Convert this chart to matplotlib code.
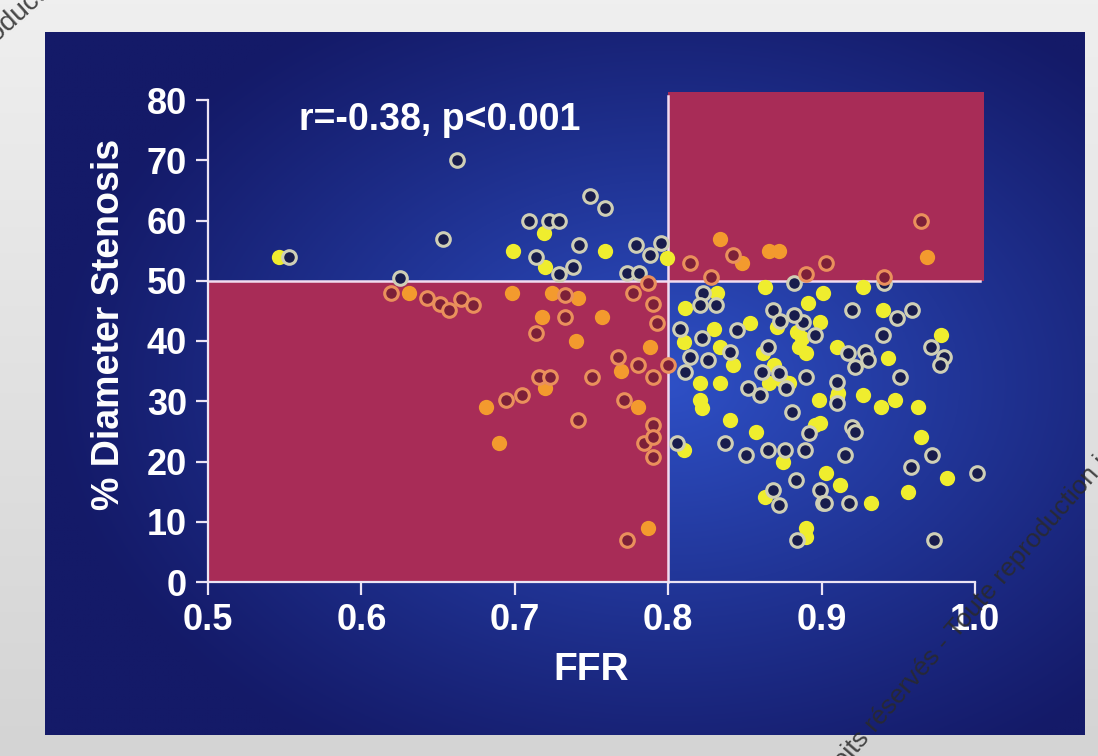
import numpy as np
import matplotlib.pyplot as plt
from matplotlib.patches import Rectangle

plt.rcParams['font.family'] = ['Liberation Sans', 'DejaVu Sans']

# FFR / % diameter stenosis, filled markers
ffr_filled = [0.546, 0.719, 0.699, 0.720, 0.759, 0.799,
              0.631, 0.698, 0.724, 0.741, 0.718, 0.757, 0.740, 0.788, 0.769, 0.720, 0.681, 0.780, 0.690, 0.787,
              0.834, 0.848, 0.866, 0.872, 0.969,
              0.811, 0.832, 0.830, 0.810, 0.834, 0.842, 0.821, 0.834, 0.853, 0.871, 0.863, 0.862, 0.866,
              0.885, 0.887, 0.884, 0.890, 0.901, 0.891, 0.899, 0.879, 0.927, 0.940, 0.978, 0.943, 0.910,
              0.911, 0.927, 0.821, 0.822, 0.840, 0.857, 0.875, 0.810, 0.863, 0.890, 0.890, 0.896, 0.898,
              0.903, 0.939, 0.948, 0.963, 0.965, 0.982, 0.956, 0.912, 0.932, 0.910, 0.899, 0.874, 0.869]
ds_filled = [54, 58, 55, 52.3, 55, 53.7,
             48, 48, 48, 47.2, 44, 44, 40, 39, 35, 32.2, 29, 29, 23, 9,
             57, 53, 55, 55, 54,
             45.4, 48, 42, 39.8, 39, 36, 33, 33, 43, 42.3, 49, 38, 33,
             39, 40.5, 41.5, 38, 48, 46.3, 43.1, 33, 49, 45.1, 41, 37.1, 39,
             31.3, 31, 30.2, 28.9, 26.9, 24.9, 19.9, 21.9, 14.1, 9, 7.5, 26, 30.2,
             18.1, 29, 30.2, 29, 24, 17.2, 14.9, 16.1, 13.1, 30.7, 26.4, 33.5, 36]

# open markers
ffr_open = [0.553, 0.653, 0.662, 0.749, 0.759, 0.709, 0.722, 0.729, 0.714, 0.742, 0.738, 0.779, 0.788,
            0.795, 0.773, 0.781, 0.729, 0.625,
            0.619, 0.643, 0.651, 0.657, 0.665, 0.673, 0.733, 0.733, 0.714, 0.777, 0.790, 0.787, 0.793,
            0.767, 0.780, 0.790, 0.716, 0.723, 0.705, 0.694, 0.750, 0.741, 0.771, 0.790, 0.784, 0.790,
            0.790, 0.773, 0.800,
            0.842, 0.903, 0.965, 0.814, 0.828, 0.890, 0.941,
            0.941, 0.823, 0.821, 0.831, 0.808, 0.822, 0.814, 0.826, 0.840, 0.811, 0.845, 0.868, 0.873,
            0.865, 0.861, 0.852, 0.872, 0.877, 0.890, 0.888, 0.896, 0.920, 0.949, 0.959, 0.940, 0.971,
            0.980, 0.977, 0.917, 0.928, 0.930, 0.922, 0.951, 0.910, 0.837, 0.851, 0.865, 0.876, 0.889,
            0.806, 0.883, 0.868, 0.872, 0.884, 0.881, 0.892, 0.899, 0.901, 0.860, 0.972, 0.958, 1.001,
            0.973, 0.915, 0.902, 0.918, 0.920, 0.922, 0.910, 0.882, 0.882]
ds_open = [54, 57, 70, 64, 62, 60, 60, 60, 54, 56, 52.2, 56, 54.3,
           56.2, 51.3, 51.3, 51.2, 50.4,
           48, 47.1, 46.1, 45.1, 46.9, 45.9, 47.6, 44, 41.3, 48, 46.2, 49.6, 43,
           37.3, 36, 34, 34, 34, 31, 30.2, 34, 26.9, 30.2, 26, 23, 24,
           20.8, 7, 36,
           54.2, 53, 60, 53, 50.6, 51.2, 50.6,
           49.6, 48, 46, 46, 42, 40.5, 37.3, 36.8, 38.1, 34.8, 41.8, 45.1, 43.4,
           39, 34.8, 32.2, 34.7, 32.2, 34, 43.1, 41, 45.1, 43.8, 45.1, 41, 39,
           37.3, 36, 38, 38.1, 36.8, 35.7, 34, 33.2, 23, 21, 21.9, 21.9, 21.9,
           23, 16.9, 15.3, 12.8, 7, 28.2, 24.7, 15.3, 13.1, 31, 21, 19.1, 18.1,
           7, 21, 13.1, 13.1, 25.7, 24.9, 29.7, 44.3, 49.7]

x_ticks = [0.5, 0.6, 0.7, 0.8, 0.9, 1.0]
x_labels = ['0.5', '0.6', '0.7', '0.8', '0.9', '1.0']
y_ticks = [0, 10, 20, 30, 40, 50, 60, 70, 80]
ffr_cut = 0.8
ds_cut = 50

W, H = 1098, 756
fig = plt.figure(figsize=(W / 100, H / 100), dpi=100)
fig.patch.set_facecolor('#d9d9d9')

# slide frame (light grey)
bg = fig.add_axes([0, 0, 1, 1])
bg.axis('off')
g = np.linspace(0, 1, 200)[:, None] * np.ones((1, 10))
bg.imshow(g, cmap=plt.matplotlib.colors.LinearSegmentedColormap.from_list('f', ['#efefef', '#d4d4d4']),
          aspect='auto', extent=[0, 1, 0, 1], origin='upper')

# dark blue panel with a soft radial glow
panel = fig.add_axes([45 / W, (H - 735) / H, 1040 / W, 703 / H])
panel.axis('off')
yy, xx = np.mgrid[0:1:300j, 0:1:400j]
r = np.sqrt(((xx - 0.6) / 0.6) ** 2 + ((yy - 0.5) / 0.62) ** 2)
glow = np.clip(1 - r, 0, 1) ** 1.1
dark = np.array([20, 26, 104]) / 255
light = np.array([46, 80, 198]) / 255
img = dark + glow[..., None] * (light - dark)
panel.imshow(img, aspect='auto', extent=[0, 1, 0, 1])

ax = fig.add_axes([208 / W, (H - 582) / H, 767 / W, 482 / H])
ax.patch.set_alpha(0)
ax.set_xlim(0.5, 1.0)
ax.set_ylim(0, 80)

red = '#a82c57'
ax.add_patch(Rectangle((0.5, 0), ffr_cut - 0.5, ds_cut, color=red, lw=0, zorder=1))
ax.add_patch(Rectangle((ffr_cut, ds_cut), 0.206, 31.4, color=red, lw=0, zorder=1, clip_on=False))
line_c = '#f2dcf0'
ax.plot([0.5, 1.003], [ds_cut, ds_cut], color=line_c, lw=1.8, zorder=2, clip_on=False)
ax.plot([ffr_cut, ffr_cut], [0, 80.6], color=line_c, lw=1.8, zorder=2, clip_on=False)

fx, fy = np.array(ffr_filled), np.array(ds_filled)
ox, oy = np.array(ffr_open), np.array(ds_open)


def in_red(x, y):
    return ((x < ffr_cut + 0.0005) & (y < ds_cut)) | ((x >= ffr_cut + 0.0005) & (y >= ds_cut))


m = in_red(fx, fy)
ax.plot(fx[~m], fy[~m], 'o', ms=11, color='#efed2e', mec='none', zorder=3, clip_on=False)
ax.plot(fx[m], fy[m], 'o', ms=11, color='#f39a2e', mec='none', zorder=3, clip_on=False)
m = in_red(ox, oy)
ax.plot(ox[~m], oy[~m], 'o', ms=9.8, mfc='#181c4c', mec='#cfcfb6', mew=2.2, zorder=4, clip_on=False)
ax.plot(ox[m], oy[m], 'o', ms=9.8, mfc='#7c2038', mec='#ea905c', mew=2.2, zorder=4, clip_on=False)

for s in ['top', 'right']:
    ax.spines[s].set_visible(False)
for s in ['left', 'bottom']:
    ax.spines[s].set_color('#ece4f4')
    ax.spines[s].set_linewidth(1.6)
ax.set_xticks(x_ticks)
ax.set_xticklabels(x_labels)
ax.set_yticks(y_ticks)
ax.tick_params(colors='#ece4f4', length=9, width=1.6, direction='out', labelsize=26,
               labelcolor='white', pad=6)
for t in ax.get_xticklabels() + ax.get_yticklabels():
    t.set_fontweight('bold')

ax.set_xlabel('FFR', fontsize=28, fontweight='bold', color='white', labelpad=10)
ax.set_ylabel('% Diameter Stenosis', fontsize=27, fontweight='bold', color='white')
ax.yaxis.set_label_coords(-0.106, 0.535)
ax.text(0.559, 76.6, 'r=-0.38, p<0.001', fontsize=27, fontweight='bold', color='white',
        va='center', ha='left', zorder=5)

# watermark fragments on the slide (cut by the image edges, as in the source)
fig.text(0.752, -0.046, 'Droits réservés - Toute reproduction interdite', rotation=49,
         fontsize=19, color='#2a2a2a', alpha=0.85, ha='left', va='baseline', rotation_mode='anchor')
fig.text(-0.087, 0.833, 'Toute reproduction', rotation=42, fontsize=20, color='#2a2a2a',
         alpha=0.85, ha='left', va='baseline', rotation_mode='anchor')

fig.savefig('out.png', dpi=100)
